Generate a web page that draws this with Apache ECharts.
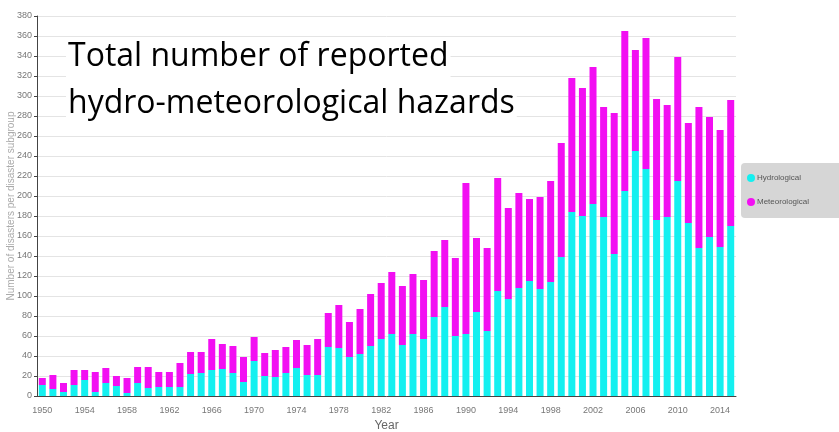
<!DOCTYPE html>
<html>
<head>
<meta charset="utf-8">
<script src="https://cdn.jsdelivr.net/npm/echarts@6/dist/echarts.min.js"></script>
<style>html,body{margin:0;padding:0;background:#fff}#c{width:839px;height:432px}</style>
</head>
<body>
<div id="c"></div>
<script>
const years = [];
for (let y = 1950; y <= 2015; y++) years.push(String(y));

const hydrological = [
  11, 7, 4, 11, 16, 4, 13, 10, 3, 13,
  8, 9, 9, 9, 22, 23, 26, 27, 23, 14,
  35, 20, 19, 23, 28, 21, 21, 49, 48, 39,
  42, 50, 57, 62, 51, 62, 57, 79, 89, 60,
  62, 84, 65, 105, 97, 108, 115, 107, 114, 139,
  184, 180, 192, 179, 142, 205, 245, 227, 176, 179,
  215, 173, 148, 159, 149, 170
];
const meteorological = [
  7, 14, 9, 15, 10, 20, 15, 10, 15, 16,
  21, 15, 15, 24, 22, 21, 31, 25, 27, 25,
  24, 23, 27, 26, 28, 30, 36, 34, 43, 35,
  45, 52, 56, 62, 59, 60, 59, 66, 67, 78,
  151, 74, 83, 113, 91, 95, 82, 92, 101, 114,
  134, 128, 137, 110, 141, 160, 101, 131, 121, 112,
  124, 100, 141, 120, 117, 126
];
const seriesNames = ['Hydrological', 'Meteorological'];
const titleLines = ['Total number of reported', 'hydro-meteorological hazards'];

const chart = echarts.init(document.getElementById('c'), null, {renderer: 'canvas'});
const narrow = "'Liberation Sans Narrow', 'Liberation Sans', Arial, sans-serif";
const titleStyle = {fontFamily: "'Open Sans', sans-serif", fontSize: 32, fontWeight: 'normal', color: '#000', lineHeight: 40};
chart.setOption({
  animation: false,
  backgroundColor: '#fff',
  grid: {left: 37, right: 103, top: 16, bottom: 36, containLabel: false, outerBoundsMode: 'none'},
  title: [
    {text: titleLines[0], left: 66, top: 37, padding: [0, 2], backgroundColor: '#fff', textStyle: titleStyle},
    {text: titleLines[1], left: 66, top: 84, padding: [0, 2], backgroundColor: '#fff', textStyle: titleStyle}
  ],
  legend: {
    data: seriesNames,
    orient: 'vertical',
    left: 741, top: 163,
    padding: [11, 34, 12, 6],
    itemGap: 16,
    icon: 'circle',
    itemWidth: 8, itemHeight: 8,
    backgroundColor: '#d6d6d6',
    borderRadius: 4,
    textStyle: {fontFamily: narrow, fontSize: 8, color: '#555', padding: [0, 0, 0, -3]}
  },
  xAxis: {
    type: 'category',
    data: years,
    name: 'Year',
    nameLocation: 'middle',
    nameGap: 24,
    nameMoveOverlap: false,
    nameTextStyle: {fontFamily: narrow, fontSize: 12, color: '#666'},
    axisLine: {lineStyle: {color: '#444', width: 1}},
    axisTick: {interval: 0, alignWithLabel: true, length: 3, lineStyle: {color: '#444'}},
    axisLabel: {interval: 3, fontFamily: narrow, fontSize: 9, color: '#777', margin: 10}
  },
  yAxis: {
    type: 'value',
    min: 0, max: 380, interval: 20,
    name: 'Number of disasters per disaster subgroup',
    nameLocation: 'middle',
    nameGap: 21,
    nameMoveOverlap: false,
    nameTextStyle: {fontFamily: "'Liberation Sans', Arial, sans-serif", fontSize: 10, color: '#aaa'},
    axisLine: {show: true, lineStyle: {color: '#444', width: 1}},
    axisTick: {show: true, length: 3, lineStyle: {color: '#444'}},
    axisLabel: {fontFamily: narrow, fontSize: 9, color: '#777', margin: 5},
    splitLine: {lineStyle: {color: '#e4e4e4', width: 1}}
  },
  series: [
    {name: seriesNames[0], type: 'bar', stack: 't', data: hydrological, barWidth: 7,
     itemStyle: {color: '#14f0f0'}},
    {name: seriesNames[1], type: 'bar', stack: 't', data: meteorological, barWidth: 7,
     itemStyle: {color: '#f20ff2'}}
  ]
});
</script>
</body>
</html>
